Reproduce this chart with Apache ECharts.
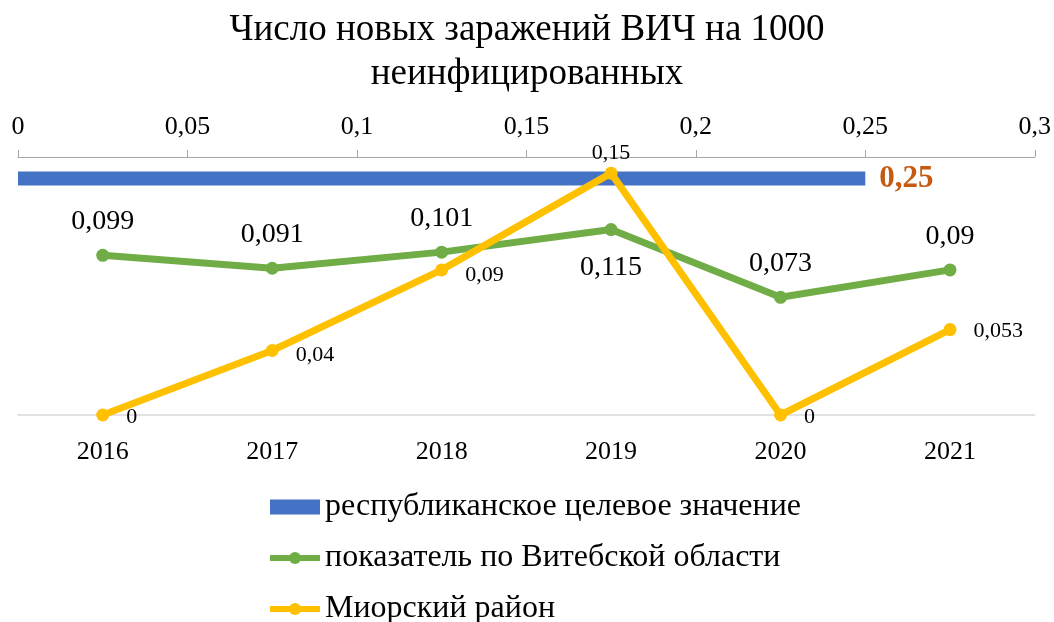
<!DOCTYPE html>
<html>
<head>
<meta charset="utf-8">
<script src="https://cdn.jsdelivr.net/npm/echarts@6/dist/echarts.min.js"></script>
<style>
html,body{margin:0;padding:0;background:#fff;}
#chart{width:1054px;height:622px;}
</style>
</head>
<body>
<div id="chart"></div>
<script>
// ---- data ----
const titleText = 'Число новых заражений ВИЧ на 1000\nнеинфицированных';
const years = ['2016', '2017', '2018', '2019', '2020', '2021'];
const seriesNames = ['республиканское целевое значение', 'показатель по Витебской области', 'Миорский район'];
const targetValues = [0.25];
const vitebskValues = [0.099, 0.091, 0.101, 0.115, 0.073, 0.09];
const miorValues = [0, 0.04, 0.09, 0.15, 0, 0.053];
const barSlots = ['t', 's1', 's2', 's3', 's4', 's5'];

const FONT = '"Liberation Serif", "Times New Roman", serif';
const comma = v => String(+(+v).toFixed(4)).replace('.', ',');

const chart = echarts.init(document.getElementById('chart'));

const vitebskData = vitebskValues.map((v, i) => ({
  value: v,
  label: i === 3 ? { position: 'bottom', distance: 18 } : { position: 'top', distance: 13 }
}));
const miorData = miorValues.map((v, i) => ({
  value: v,
  label: i === 3 ? { position: 'top', distance: 2 } : { position: 'right', distance: 17, offset: [0, (i === 1 || i === 2) ? 5 : 2] }
}));

chart.setOption({
  animation: false,
  title: {
    text: titleText,
    left: 'center',
    top: 3,
    textStyle: { fontFamily: FONT, fontWeight: 'normal', fontSize: 37, color: '#000', lineHeight: 44 }
  },
  legend: {
    orient: 'vertical',
    left: 262,
    top: 486,
    height: 200,
    itemWidth: 50,
    itemHeight: 15,
    itemGap: 19,
    lineStyle: { width: 6 },
    textStyle: { fontFamily: FONT, fontSize: 32, color: '#000' },
    data: [
      { name: seriesNames[0], icon: 'rect' },
      { name: seriesNames[1] },
      { name: seriesNames[2] }
    ]
  },
  grid: { left: 18, right: 18, top: 157, bottom: 207 },
  xAxis: [
    {
      type: 'value', position: 'top', min: 0, max: 0.3, interval: 0.05,
      axisLine: { show: true, onZero: false, lineStyle: { color: '#a6a6a6', width: 1 } },
      axisTick: { show: true, length: 7, lineStyle: { color: '#a6a6a6' } },
      splitLine: { show: false },
      axisLabel: { formatter: comma, fontFamily: FONT, fontSize: 26, color: '#000', margin: 17 }
    },
    {
      type: 'category', position: 'bottom', data: years, boundaryGap: true,
      axisLine: { show: true, onZero: false, lineStyle: { color: '#d9d9d9', width: 1.5 } },
      axisTick: { show: false },
      axisLabel: { fontFamily: FONT, fontSize: 26, color: '#000', margin: 24 }
    }
  ],
  yAxis: [
    { type: 'category', data: barSlots, inverse: true, show: false },
    { type: 'value', min: 0, max: 0.16, show: false }
  ],
  series: [
    {
      name: seriesNames[0], type: 'bar', xAxisIndex: 0, yAxisIndex: 0,
      data: targetValues, barWidth: 14,
      itemStyle: { color: '#4472C4' },
      label: { show: true, position: 'right', distance: 14, formatter: p => comma(p.value),
        fontFamily: FONT, fontSize: 31, fontWeight: 'bold', color: '#C55A11' },
      z: 2
    },
    {
      name: seriesNames[1], type: 'line', xAxisIndex: 1, yAxisIndex: 1,
      data: vitebskData, symbol: 'circle', symbolSize: 13,
      lineStyle: { color: '#70AD47', width: 7 }, itemStyle: { color: '#70AD47' },
      label: { show: true, formatter: p => comma(p.value),
        fontFamily: FONT, fontSize: 28, color: '#000' },
      z: 3
    },
    {
      name: seriesNames[2], type: 'line', xAxisIndex: 1, yAxisIndex: 1,
      data: miorData, symbol: 'circle', symbolSize: 13,
      lineStyle: { color: '#FFC000', width: 7 }, itemStyle: { color: '#FFC000' },
      label: { show: true, formatter: p => comma(p.value),
        fontFamily: FONT, fontSize: 22, color: '#000' },
      z: 4
    }
  ]
});
</script>
</body>
</html>
